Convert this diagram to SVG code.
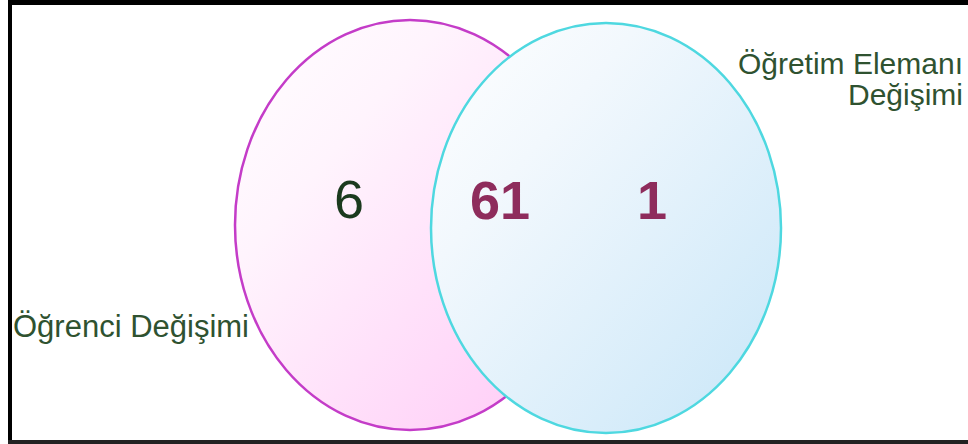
<svg xmlns="http://www.w3.org/2000/svg" width="968" height="444" viewBox="0 0 968 444">
<style>
.lbl{font-family:"Liberation Sans",Arial,sans-serif;font-size:30px;fill:#2f5230}
.num{font-family:"Liberation Sans",Arial,sans-serif;font-size:54px}
</style>
<defs>
<linearGradient id="gp" x1="0" y1="0" x2="1" y2="1">
<stop offset="0" stop-color="#ffffff"/>
<stop offset="0.3" stop-color="#fff4fd"/>
<stop offset="1" stop-color="#ffc8f6"/>
</linearGradient>
<linearGradient id="gb" x1="0" y1="0" x2="1" y2="1">
<stop offset="0" stop-color="#ffffff"/>
<stop offset="0.3" stop-color="#f2f8fd"/>
<stop offset="1" stop-color="#c8e6f8"/>
</linearGradient>
</defs>
<rect x="0" y="0" width="968" height="444" fill="#ffffff"/>
<g id="frame">
<rect x="8" y="0" width="960" height="5" fill="#000"/>
<rect x="8" y="0" width="4" height="444" fill="#000"/>
<rect x="8" y="440" width="960" height="4" fill="#222"/>
</g>
<g id="set-ogrenci">
<ellipse cx="410" cy="225" rx="175" ry="205" fill="url(#gp)" stroke="#c43cc8" stroke-width="2.5"/>
</g>
<g id="set-ogretim">
<ellipse cx="606" cy="228" rx="175" ry="205" fill="url(#gb)" stroke="#4ed8e0" stroke-width="2.5"/>
</g>
<g id="numbers">
<text class="num" x="349" y="218" text-anchor="middle" fill="#1b3a1e">6</text>
<text class="num" x="500" y="219" text-anchor="middle" font-weight="bold" fill="#8e2c5c">61</text>
<text class="num" x="652" y="219" text-anchor="middle" font-weight="bold" fill="#8e2c5c">1</text>
</g>
<g id="labels">
<text class="lbl" x="13" y="337" style="font-size:31px">Öğrenci Değişimi</text>
<text class="lbl" x="963" y="74" text-anchor="end">Öğretim Elemanı</text>
<text class="lbl" x="963" y="105" text-anchor="end">Değişimi</text>
</g>
</svg>
